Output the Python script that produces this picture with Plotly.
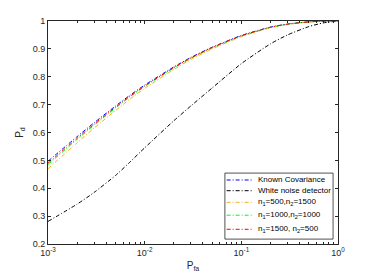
import plotly.graph_objects as go

# Data
pfa = [0.001, 0.002, 0.003, 0.005, 0.007, 0.01, 0.02, 0.03, 0.05, 0.1, 0.2, 0.3, 0.5, 0.7, 1.0]
pd_known = [0.497, 0.585, 0.635, 0.695, 0.733, 0.770, 0.835, 0.869, 0.906, 0.948, 0.978, 0.989, 0.997, 0.9993, 1.0]
pd_white = [0.281, 0.343, 0.385, 0.446, 0.493, 0.545, 0.642, 0.695, 0.760, 0.847, 0.918, 0.950, 0.980, 0.993, 1.0]
pd_500_1500 = [0.470, 0.563, 0.616, 0.679, 0.719, 0.758, 0.826, 0.862, 0.900, 0.944, 0.976, 0.9875, 0.9965, 0.9991, 1.0]
pd_1000_1000 = [0.485, 0.575, 0.626, 0.688, 0.727, 0.765, 0.831, 0.866, 0.9035, 0.946, 0.977, 0.9884, 0.9968, 0.9993, 1.0]
pd_1500_500 = [0.490, 0.579, 0.630, 0.691, 0.7295, 0.767, 0.833, 0.8675, 0.905, 0.947, 0.9775, 0.9887, 0.9969, 0.9993, 1.0]

series_names = ["Known Covariance", "White noise detector",
                "n<sub>1</sub>=500,n<sub>2</sub>=1500",
                "n<sub>1</sub>=1000,n<sub>2</sub>=1000",
                "n<sub>1</sub>=1500, n<sub>2</sub>=500"]
series_values = [pd_known, pd_white, pd_500_1500, pd_1000_1000, pd_1500_500]
series_colors = ["#0000FF", "#000000", "#EDB120", "#00FF00", "#FF0000"]

x_tickvals = [0.001, 0.01, 0.1, 1]
x_ticktext = ["10<sup>-3</sup>", "10<sup>-2</sup>", "10<sup>-1</sup>", "10<sup>0</sup>"]
y_tickvals = [0.2, 0.3, 0.4, 0.5, 0.6, 0.7, 0.8, 0.9, 1.0]
y_ticktext = ["0.2", "0.3", "0.4", "0.5", "0.6", "0.7", "0.8", "0.9", "1"]

minor_vals = [m * 10 ** e for e in (-3, -2, -1) for m in range(2, 10)]

DASH = "4px,2px,1px,2px"
axis_color = "#262626"

fig = go.Figure()
for name, vals, col in zip(series_names, series_values, series_colors):
    fig.add_trace(go.Scatter(
        x=pfa, y=vals, mode="lines", name=name, showlegend=False,
        line=dict(color=col, width=1, dash=DASH, shape="spline", smoothing=0.6),
    ))

# Custom compact legend (MATLAB style) in paper coordinates
leg_x0, leg_x1 = 0.610, 0.983
leg_y0, leg_y1 = 0.022, 0.318
item_y = [0.287, 0.239, 0.187, 0.129, 0.066]
shapes = [dict(type="rect", xref="paper", yref="paper", x0=leg_x0, x1=leg_x1, y0=leg_y0, y1=leg_y1,
               line=dict(color=axis_color, width=0.8), fillcolor="white", layer="above")]
annotations = []
for name, col, yy in zip(series_names, series_colors, item_y):
    shapes.append(dict(type="line", xref="paper", yref="paper", x0=0.616, x1=0.708, y0=yy, y1=yy,
                       line=dict(color=col, width=1, dash=DASH), layer="above"))
    annotations.append(dict(xref="paper", yref="paper", x=0.716, y=yy, text=name, showarrow=False,
                            xanchor="left", yanchor="middle", font=dict(size=8, color="#000000")))

fig.update_layout(
    width=374, height=280,
    margin=dict(l=40, r=44, t=13, b=44),
    paper_bgcolor="white", plot_bgcolor="white",
    font=dict(family="Liberation Sans, Arial, sans-serif", size=9, color=axis_color),
    showlegend=False,
    shapes=shapes, annotations=annotations,
)
fig.update_xaxes(
    type="log", range=[-3, 0], automargin=False,
    tickmode="array", tickvals=x_tickvals, ticktext=x_ticktext,
    ticks="inside", ticklen=3, tickwidth=0.5, tickcolor=axis_color,
    minor=dict(tickmode="array", tickvals=minor_vals, ticks="inside", ticklen=2, tickcolor=axis_color, tickwidth=0.5),
    showline=True, linecolor=axis_color, linewidth=0.8, mirror="ticks",
    showgrid=False, zeroline=False,
    title=dict(text="P<sub>fa</sub>", standoff=5, font=dict(size=10)),
    tickfont=dict(size=9),
)
fig.update_yaxes(
    range=[0.2, 1.0], automargin=False,
    tickmode="array", tickvals=y_tickvals, ticktext=y_ticktext,
    ticks="inside", ticklen=3, tickwidth=0.5, tickcolor=axis_color,
    showline=True, linecolor=axis_color, linewidth=0.8, mirror="ticks",
    showgrid=False, zeroline=False,
    title=dict(text="P<sub>d</sub>", standoff=7, font=dict(size=10)),
    tickfont=dict(size=9),
)

fig.write_html("out.html")
